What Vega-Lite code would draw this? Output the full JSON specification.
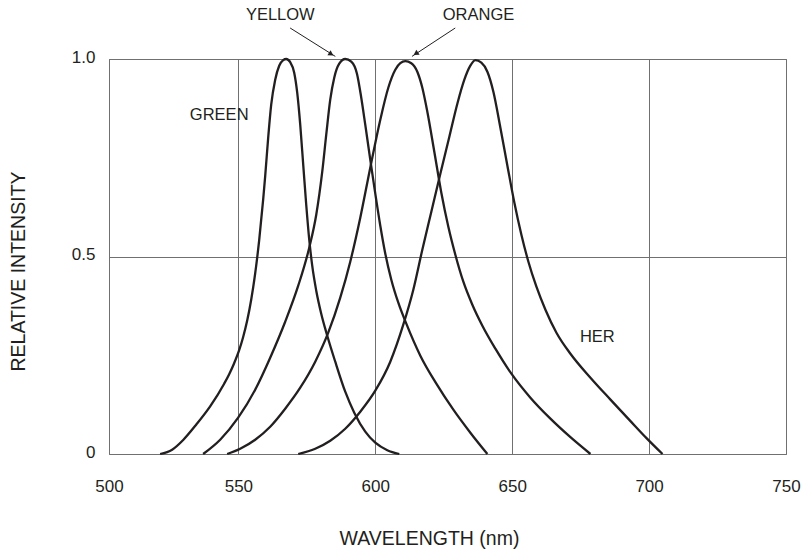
{
  "$schema": "https://vega.github.io/schema/vega-lite/v6.json",
  "autosize": {"type": "none"},
  "padding": {"left": 109, "top": 59, "right": 17, "bottom": 98},
  "width": 677,
  "height": 395,
  "background": "white",
  "config": {
    "view": {"stroke": "#707070", "strokeWidth": 1},
    "font": "Liberation Sans",
    "axis": {"labelFont": "Liberation Sans", "titleFont": "Liberation Sans", "labelColor": "#231f20", "titleColor": "#231f20", "titleFontWeight": "normal"}
  },
  "datasets": {
    "curves": [
      {"series": "GREEN", "wavelength": 521.42, "intensity": 0},
      {"series": "GREEN", "wavelength": 525.80, "intensity": 0.0109},
      {"series": "GREEN", "wavelength": 529.93, "intensity": 0.0362},
      {"series": "GREEN", "wavelength": 534.58, "intensity": 0.0742},
      {"series": "GREEN", "wavelength": 539.69, "intensity": 0.1205},
      {"series": "GREEN", "wavelength": 544.81, "intensity": 0.178},
      {"series": "GREEN", "wavelength": 546.64, "intensity": 0.202},
      {"series": "GREEN", "wavelength": 548.46, "intensity": 0.2299},
      {"series": "GREEN", "wavelength": 550.29, "intensity": 0.2628},
      {"series": "GREEN", "wavelength": 551.75, "intensity": 0.2962},
      {"series": "GREEN", "wavelength": 553.22, "intensity": 0.3377},
      {"series": "GREEN", "wavelength": 554.68, "intensity": 0.3904},
      {"series": "GREEN", "wavelength": 556.14, "intensity": 0.4572},
      {"series": "GREEN", "wavelength": 557.60, "intensity": 0.5413},
      {"series": "GREEN", "wavelength": 559.06, "intensity": 0.6446},
      {"series": "GREEN", "wavelength": 559.80, "intensity": 0.7041},
      {"series": "GREEN", "wavelength": 560.89, "intensity": 0.8008},
      {"series": "GREEN", "wavelength": 561.99, "intensity": 0.8843},
      {"series": "GREEN", "wavelength": 563.45, "intensity": 0.9476},
      {"series": "GREEN", "wavelength": 564.91, "intensity": 0.983},
      {"series": "GREEN", "wavelength": 566.37, "intensity": 0.997},
      {"series": "GREEN", "wavelength": 567.47, "intensity": 1.0},
      {"series": "GREEN", "wavelength": 568.93, "intensity": 0.9919},
      {"series": "GREEN", "wavelength": 570.39, "intensity": 0.9653},
      {"series": "GREEN", "wavelength": 571.49, "intensity": 0.9147},
      {"series": "GREEN", "wavelength": 572.59, "intensity": 0.8337},
      {"series": "GREEN", "wavelength": 573.68, "intensity": 0.7324},
      {"series": "GREEN", "wavelength": 574.78, "intensity": 0.6311},
      {"series": "GREEN", "wavelength": 575.88, "intensity": 0.5425},
      {"series": "GREEN", "wavelength": 576.97, "intensity": 0.4767},
      {"series": "GREEN", "wavelength": 578.44, "intensity": 0.4134},
      {"series": "GREEN", "wavelength": 580.26, "intensity": 0.3552},
      {"series": "GREEN", "wavelength": 582.46, "intensity": 0.2995},
      {"series": "GREEN", "wavelength": 585.38, "intensity": 0.2337},
      {"series": "GREEN", "wavelength": 589.03, "intensity": 0.1577},
      {"series": "GREEN", "wavelength": 592.32, "intensity": 0.1046},
      {"series": "GREEN", "wavelength": 596.34, "intensity": 0.0565},
      {"series": "GREEN", "wavelength": 600.00, "intensity": 0.0286},
      {"series": "GREEN", "wavelength": 604.39, "intensity": 0.0096},
      {"series": "GREEN", "wavelength": 608.77, "intensity": 0},
      {"series": "YELLOW", "wavelength": 537.13, "intensity": 0},
      {"series": "YELLOW", "wavelength": 543.35, "intensity": 0.0362},
      {"series": "YELLOW", "wavelength": 549.93, "intensity": 0.0919},
      {"series": "YELLOW", "wavelength": 556.14, "intensity": 0.1628},
      {"series": "YELLOW", "wavelength": 561.62, "intensity": 0.2438},
      {"series": "YELLOW", "wavelength": 567.10, "intensity": 0.3349},
      {"series": "YELLOW", "wavelength": 571.86, "intensity": 0.4261},
      {"series": "YELLOW", "wavelength": 575.88, "intensity": 0.5223},
      {"series": "YELLOW", "wavelength": 578.44, "intensity": 0.6058},
      {"series": "YELLOW", "wavelength": 580.63, "intensity": 0.7147},
      {"series": "YELLOW", "wavelength": 582.09, "intensity": 0.8084},
      {"series": "YELLOW", "wavelength": 583.55, "intensity": 0.897},
      {"series": "YELLOW", "wavelength": 585.01, "intensity": 0.9527},
      {"series": "YELLOW", "wavelength": 586.84, "intensity": 0.9881},
      {"series": "YELLOW", "wavelength": 589.03, "intensity": 1.0},
      {"series": "YELLOW", "wavelength": 591.23, "intensity": 0.9932},
      {"series": "YELLOW", "wavelength": 593.31, "intensity": 0.9628},
      {"series": "YELLOW", "wavelength": 594.88, "intensity": 0.902},
      {"series": "YELLOW", "wavelength": 596.34, "intensity": 0.8337},
      {"series": "YELLOW", "wavelength": 598.17, "intensity": 0.7451},
      {"series": "YELLOW", "wavelength": 600.00, "intensity": 0.659},
      {"series": "YELLOW", "wavelength": 601.83, "intensity": 0.578},
      {"series": "YELLOW", "wavelength": 603.66, "intensity": 0.5071},
      {"series": "YELLOW", "wavelength": 605.85, "intensity": 0.4413},
      {"series": "YELLOW", "wavelength": 608.41, "intensity": 0.383},
      {"series": "YELLOW", "wavelength": 611.33, "intensity": 0.3299},
      {"series": "YELLOW", "wavelength": 616.45, "intensity": 0.2489},
      {"series": "YELLOW", "wavelength": 622.30, "intensity": 0.178},
      {"series": "YELLOW", "wavelength": 628.51, "intensity": 0.1122},
      {"series": "YELLOW", "wavelength": 634.72, "intensity": 0.0539},
      {"series": "YELLOW", "wavelength": 640.94, "intensity": 0},
      {"series": "ORANGE", "wavelength": 545.91, "intensity": 0},
      {"series": "ORANGE", "wavelength": 550.66, "intensity": 0.0134},
      {"series": "ORANGE", "wavelength": 556.14, "intensity": 0.0362},
      {"series": "ORANGE", "wavelength": 561.62, "intensity": 0.0691},
      {"series": "ORANGE", "wavelength": 567.10, "intensity": 0.1147},
      {"series": "ORANGE", "wavelength": 572.59, "intensity": 0.1678},
      {"series": "ORANGE", "wavelength": 578.07, "intensity": 0.2337},
      {"series": "ORANGE", "wavelength": 582.82, "intensity": 0.3071},
      {"series": "ORANGE", "wavelength": 587.21, "intensity": 0.3957},
      {"series": "ORANGE", "wavelength": 590.86, "intensity": 0.4868},
      {"series": "ORANGE", "wavelength": 594.52, "intensity": 0.5982},
      {"series": "ORANGE", "wavelength": 598.17, "intensity": 0.7248},
      {"series": "ORANGE", "wavelength": 601.83, "intensity": 0.8463},
      {"series": "ORANGE", "wavelength": 604.75, "intensity": 0.9273},
      {"series": "ORANGE", "wavelength": 607.31, "intensity": 0.9729},
      {"series": "ORANGE", "wavelength": 609.14, "intensity": 0.9894},
      {"series": "ORANGE", "wavelength": 610.97, "intensity": 0.9944},
      {"series": "ORANGE", "wavelength": 613.16, "intensity": 0.9894},
      {"series": "ORANGE", "wavelength": 615.35, "intensity": 0.9678},
      {"series": "ORANGE", "wavelength": 617.18, "intensity": 0.9273},
      {"series": "ORANGE", "wavelength": 619.01, "intensity": 0.8666},
      {"series": "ORANGE", "wavelength": 621.56, "intensity": 0.7653},
      {"series": "ORANGE", "wavelength": 624.12, "intensity": 0.6615},
      {"series": "ORANGE", "wavelength": 626.68, "intensity": 0.5754},
      {"series": "ORANGE", "wavelength": 629.24, "intensity": 0.5046},
      {"series": "ORANGE", "wavelength": 632.16, "intensity": 0.4362},
      {"series": "ORANGE", "wavelength": 635.45, "intensity": 0.378},
      {"series": "ORANGE", "wavelength": 639.11, "intensity": 0.3248},
      {"series": "ORANGE", "wavelength": 643.86, "intensity": 0.2666},
      {"series": "ORANGE", "wavelength": 649.71, "intensity": 0.2033},
      {"series": "ORANGE", "wavelength": 656.65, "intensity": 0.1425},
      {"series": "ORANGE", "wavelength": 663.96, "intensity": 0.0894},
      {"series": "ORANGE", "wavelength": 671.27, "intensity": 0.0425},
      {"series": "ORANGE", "wavelength": 678.58, "intensity": 0},
      {"series": "HER", "wavelength": 571.86, "intensity": 0},
      {"series": "HER", "wavelength": 578.07, "intensity": 0.0134},
      {"series": "HER", "wavelength": 583.55, "intensity": 0.0337},
      {"series": "HER", "wavelength": 589.03, "intensity": 0.064},
      {"series": "HER", "wavelength": 594.52, "intensity": 0.1071},
      {"series": "HER", "wavelength": 600.00, "intensity": 0.1603},
      {"series": "HER", "wavelength": 605.48, "intensity": 0.2337},
      {"series": "HER", "wavelength": 610.23, "intensity": 0.3273},
      {"series": "HER", "wavelength": 613.89, "intensity": 0.4159},
      {"series": "HER", "wavelength": 617.18, "intensity": 0.5172},
      {"series": "HER", "wavelength": 620.47, "intensity": 0.6134},
      {"series": "HER", "wavelength": 623.76, "intensity": 0.7096},
      {"series": "HER", "wavelength": 627.05, "intensity": 0.8033},
      {"series": "HER", "wavelength": 629.97, "intensity": 0.8868},
      {"series": "HER", "wavelength": 632.53, "intensity": 0.9476},
      {"series": "HER", "wavelength": 634.72, "intensity": 0.983},
      {"series": "HER", "wavelength": 636.55, "intensity": 0.997},
      {"series": "HER", "wavelength": 638.74, "intensity": 0.9906},
      {"series": "HER", "wavelength": 640.94, "intensity": 0.9678},
      {"series": "HER", "wavelength": 643.13, "intensity": 0.9172},
      {"series": "HER", "wavelength": 645.69, "intensity": 0.8261},
      {"series": "HER", "wavelength": 648.25, "intensity": 0.7299},
      {"series": "HER", "wavelength": 650.80, "intensity": 0.6362},
      {"series": "HER", "wavelength": 653.36, "intensity": 0.5552},
      {"series": "HER", "wavelength": 655.92, "intensity": 0.4868},
      {"series": "HER", "wavelength": 658.85, "intensity": 0.4235},
      {"series": "HER", "wavelength": 662.14, "intensity": 0.3653},
      {"series": "HER", "wavelength": 666.16, "intensity": 0.3071},
      {"series": "HER", "wavelength": 671.27, "intensity": 0.2539},
      {"series": "HER", "wavelength": 678.58, "intensity": 0.1932},
      {"series": "HER", "wavelength": 685.89, "intensity": 0.1377},
      {"series": "HER", "wavelength": 693.20, "intensity": 0.0833},
      {"series": "HER", "wavelength": 699.05, "intensity": 0.0402},
      {"series": "HER", "wavelength": 704.90, "intensity": 0}
    ],
    "labels": [
      {"text": "YELLOW", "wavelength": 565.3, "intensity": 1.112},
      {"text": "ORANGE", "wavelength": 637.7, "intensity": 1.112},
      {"text": "GREEN", "wavelength": 543.0, "intensity": 0.857},
      {"text": "HER", "wavelength": 681.1, "intensity": 0.297}
    ],
    "arrows": [
      {"name": "YELLOW", "w1": 568.9, "i1": 1.0785, "w2": 585.4, "i2": 1.0066, "hw": 583.9, "hi": 1.0122},
      {"name": "ORANGE", "w1": 629.2, "i1": 1.0785, "w2": 613.4, "i2": 1.0066, "hw": 614.8, "hi": 1.0134}
    ]
  },
  "layer": [
    {
      "data": {"name": "curves"},
      "mark": {"type": "line", "interpolate": "monotone", "stroke": "#231f20", "strokeWidth": 2.3},
      "encoding": {
        "x": {
          "field": "wavelength", "type": "quantitative",
          "scale": {"domain": [502.75, 750], "nice": false, "zero": false},
          "axis": {
            "values": [502.75, 550, 600, 650, 700, 750],
            "labelExpr": "datum.value < 510 ? '500' : datum.label",
            "labelFlush": false,
            "grid": true, "gridColor": "#707070", "gridWidth": 1,
            "domain": false, "ticks": false, "tickSize": 0,
            "labelFontSize": 17, "labelPadding": 32, "labelBaseline": "middle",
            "title": "WAVELENGTH (nm)", "titleFontSize": 19.5,
            "titleX": 320, "titleY": 84, "titleBaseline": "middle", "titleAlign": "center"
          }
        },
        "y": {
          "field": "intensity", "type": "quantitative",
          "scale": {"domain": [0, 1], "nice": false},
          "axis": {
            "values": [0, 0.5, 1],
            "labelExpr": "datum.value == 0 ? '0' : format(datum.value, '.1f')",
            "labelFlush": false,
            "grid": true, "gridColor": "#707070", "gridWidth": 1,
            "domain": false, "ticks": false, "tickSize": 0,
            "labelFontSize": 17, "labelPadding": 14, "labelOffset": -2,
            "title": "RELATIVE INTENSITY", "titleFontSize": 19.5,
            "titleX": -91, "titleY": 212, "titleBaseline": "middle", "titleAlign": "center", "titleAngle": -90
          }
        },
        "detail": {"field": "series"}
      }
    },
    {
      "data": {"name": "arrows"},
      "mark": {"type": "rule", "stroke": "#231f20", "strokeWidth": 1},
      "encoding": {
        "x": {"field": "w1", "type": "quantitative"},
        "y": {"field": "i1", "type": "quantitative"},
        "x2": {"field": "w2"},
        "y2": {"field": "i2"}
      }
    },
    {
      "data": {"name": "arrows"},
      "transform": [{"filter": "datum.name == 'YELLOW'"}],
      "mark": {"type": "point", "shape": "triangle-up", "filled": true, "fill": "#231f20", "stroke": null, "size": 36, "angle": 122, "opacity": 1},
      "encoding": {
        "x": {"field": "hw", "type": "quantitative"},
        "y": {"field": "hi", "type": "quantitative"}
      }
    },
    {
      "data": {"name": "arrows"},
      "transform": [{"filter": "datum.name == 'ORANGE'"}],
      "mark": {"type": "point", "shape": "triangle-up", "filled": true, "fill": "#231f20", "stroke": null, "size": 36, "angle": 237, "opacity": 1},
      "encoding": {
        "x": {"field": "hw", "type": "quantitative"},
        "y": {"field": "hi", "type": "quantitative"}
      }
    },
    {
      "data": {"name": "labels"},
      "mark": {"type": "text", "font": "Liberation Sans", "fontSize": 16.5, "fill": "#231f20", "align": "center", "baseline": "middle"},
      "encoding": {
        "x": {"field": "wavelength", "type": "quantitative"},
        "y": {"field": "intensity", "type": "quantitative"},
        "text": {"field": "text"}
      }
    }
  ]
}
